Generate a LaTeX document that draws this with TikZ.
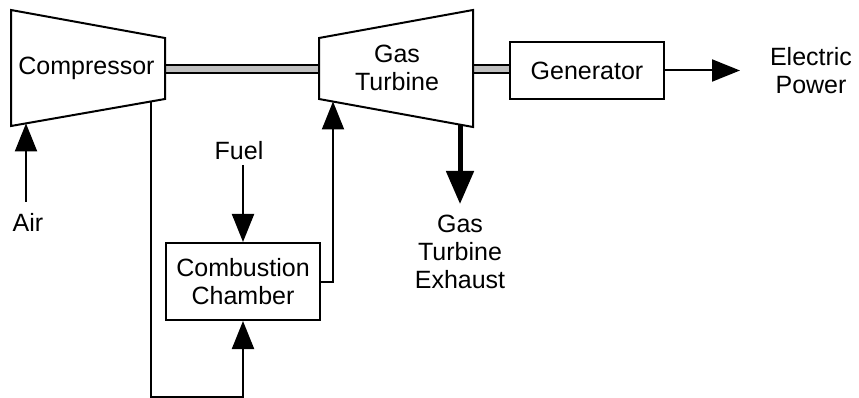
\documentclass[tikz,border=0pt]{standalone}
\usepackage{fontspec}
\setmainfont{Liberation Sans}
\usetikzlibrary{arrows.meta}
\begin{document}
\begin{tikzpicture}[x=1pt,y=-1pt,
  every node/.style={font=\fontsize{25}{28}\selectfont, inner sep=0pt},
  lbl/.style={align=center},
  boxnode/.style={draw, line width=2pt, minimum width=154pt, align=center},
  unit/.style={draw, line width=2pt, fill=white, line join=miter},
  shaft/.style={draw, line width=2pt, fill=black!25},
  flow/.style={line width=2pt, -{Triangle[length=28pt,width=22pt]}},
  bigflow/.style={line width=5pt, -{Triangle[length=33pt,width=27pt]}},
  wire/.style={line width=2pt}]
\useasboundingbox (0,0) rectangle (859,398);
% shafts
\draw[shaft] (165,65) rectangle (319,73);
\draw[shaft] (473,65) rectangle (510,73);
% compressor
\draw[unit] (11,10) -- (165,38) -- (165,99) -- (11,126) -- cycle;
\node (comp) at (86.5,68) {Compressor};
% gas turbine
\draw[unit] (319,38) -- (473,10) -- (473,127) -- (319,99) -- cycle;
\node[lbl] (gt) at (397,68) {Gas\\Turbine};
% generator
\node[boxnode, minimum height=57pt] (gen) at (587,70.5) {Generator};
% combustion chamber
\node[boxnode, minimum height=77pt] (cc) at (243,281.5) {Combustion\\Chamber};
% labels
\node[lbl] (power) at (811,71) {Electric\\Power};
\node (air) at (28,222) {Air};
\node (fuel) at (239,151) {Fuel};
\node[lbl] (exh) at (460,252) {Gas\\Turbine\\Exhaust};
% coordinates
\coordinate (airstart) at (26,202);
\coordinate (compin) at (26,123.4);
\coordinate (compout) at (151,101.5);
\coordinate (loop) at (151,397);
\coordinate (fuelstart) at (243,165);
\coordinate (gtin) at (333,101.5);
\coordinate (gtout) at (460,124.6);
\coordinate (exhend) at (460,204);
\coordinate (powerend) at (740,70.5);
% connectors
\draw[flow] (airstart) -- (compin);
\draw[flow] (compout) -- (loop) -| (cc.south);
\draw[flow] (fuelstart) -- (cc.north);
\draw[flow] (cc.east) -| (gtin);
\draw[bigflow] (gtout) -- (exhend);
\draw[flow] (gen.east) -- (powerend);
\end{tikzpicture}
\end{document}
